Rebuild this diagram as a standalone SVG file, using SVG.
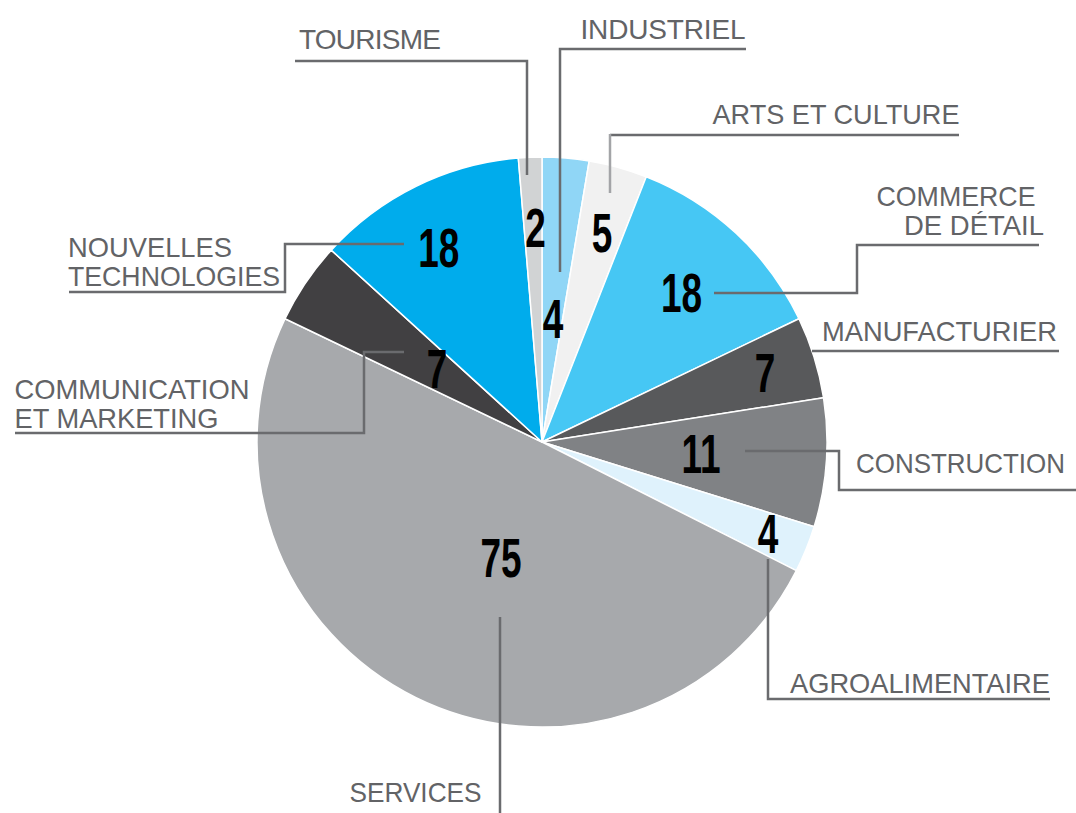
<svg xmlns="http://www.w3.org/2000/svg" width="1076" height="813" viewBox="0 0 1076 813">
<style>
.sl{stroke:#ffffff;stroke-width:1.5;stroke-linejoin:round}
.ln{fill:none;stroke:#6a6b6e;stroke-width:2.5}
.lnl{fill:none;stroke:#a3a4a7;stroke-width:2.5}
.lab{font-family:"Liberation Sans",Arial,sans-serif;font-size:28px;fill:#626366}
.num{font-family:"Liberation Sans",Arial,sans-serif;font-weight:bold;font-size:56px;fill:#000000;text-anchor:middle}
</style>
<rect width="1076" height="813" fill="#ffffff"/>
<g id="pie">
<g id="industriel"><path class="sl" fill="#90d6f6" d="M542,442 L542,157 A285,285 0 0 1 589.22,160.94 Z"/></g>
<g id="arts-et-culture"><path class="sl" fill="#f1f1f1" d="M542,442 L589.22,160.94 A285,285 0 0 1 646.26,176.75 Z"/></g>
<g id="commerce-de-detail"><path class="sl" fill="#46c7f4" d="M542,442 L646.26,176.75 A285,285 0 0 1 798.96,318.72 Z"/></g>
<g id="manufacturier"><path class="sl" fill="#58595b" d="M542,442 L798.96,318.72 A285,285 0 0 1 823.54,397.71 Z"/></g>
<g id="construction"><path class="sl" fill="#808285" d="M542,442 L823.54,397.71 A285,285 0 0 1 814.13,526.68 Z"/></g>
<g id="agroalimentaire"><path class="sl" fill="#dff2fc" d="M542,442 L814.13,526.68 A285,285 0 0 1 796.34,570.59 Z"/></g>
<g id="services"><path class="sl" fill="#a7a9ac" d="M542,442 L796.34,570.59 A285,285 0 0 1 285.04,318.72 Z"/></g>
<g id="communication-et-marketing"><path class="sl" fill="#414042" d="M542,442 L285.04,318.72 A285,285 0 0 1 331.27,250.13 Z"/></g>
<g id="nouvelles-technologies"><path class="sl" fill="#00acec" d="M542,442 L331.27,250.13 A285,285 0 0 1 518.31,157.99 Z"/></g>
<g id="tourisme"><path class="sl" fill="#d1d3d4" d="M542,442 L518.31,157.99 A285,285 0 0 1 542,157 Z"/></g>
</g>
<g id="connectors">
<path class="ln" d="M295,61 H527 V175"/>
<path class="ln" d="M746,49 H560 V272"/>
<path class="ln" d="M959,135 H610"/>
<path class="lnl" d="M610,134 V193"/>
<path class="ln" d="M1039,245 H857 V293 H714"/>
<path class="ln" d="M812,351 H1059"/>
<path class="ln" d="M745,451 H839 V490 H1076"/>
<path class="ln" d="M768,559 V699 H1050"/>
<path class="ln" d="M500,617 V813"/>
<path class="ln" d="M404,244 H285 V292 H69"/>
<path class="ln" d="M404,352 H364 V433 H15"/>
</g>
<g id="values">
<text class="num" transform="translate(535.5,247) scale(0.66,1)">2</text>
<text class="num" transform="translate(553,338) scale(0.66,1)">4</text>
<text class="num" transform="translate(602,252) scale(0.66,1)">5</text>
<text class="num" transform="translate(681.5,312) scale(0.66,1)">18</text>
<text class="num" transform="translate(765,392) scale(0.66,1)">7</text>
<text class="num" transform="translate(701,473) scale(0.66,1)">11</text>
<text class="num" transform="translate(768,553) scale(0.66,1)">4</text>
<text class="num" transform="translate(501,577) scale(0.66,1)">75</text>
<text class="num" transform="translate(437,388) scale(0.66,1)">7</text>
<text class="num" transform="translate(438.7,267) scale(0.66,1)">18</text>
</g>
<g id="labels">
<text class="lab" x="299" y="49.3" textLength="142" lengthAdjust="spacing">TOURISME</text>
<text class="lab" x="580.5" y="39.3" textLength="165" lengthAdjust="spacing">INDUSTRIEL</text>
<text class="lab" x="712.5" y="124" textLength="247" lengthAdjust="spacingAndGlyphs">ARTS ET CULTURE</text>
<text class="lab" x="876.5" y="205.7" textLength="159" lengthAdjust="spacingAndGlyphs">COMMERCE</text>
<text class="lab" x="904" y="235" textLength="140" lengthAdjust="spacingAndGlyphs">DE DÉTAIL</text>
<text class="lab" x="822" y="340.7" textLength="235" lengthAdjust="spacingAndGlyphs">MANUFACTURIER</text>
<text class="lab" x="856" y="472.7" textLength="209" lengthAdjust="spacingAndGlyphs">CONSTRUCTION</text>
<text class="lab" x="790" y="692.7" textLength="260" lengthAdjust="spacingAndGlyphs">AGROALIMENTAIRE</text>
<text class="lab" x="349.5" y="801.7" textLength="132" lengthAdjust="spacingAndGlyphs">SERVICES</text>
<text class="lab" x="68" y="257.3" textLength="164" lengthAdjust="spacingAndGlyphs">NOUVELLES</text>
<text class="lab" x="68" y="286" textLength="212" lengthAdjust="spacingAndGlyphs">TECHNOLOGIES</text>
<text class="lab" x="14.5" y="399.3" textLength="235" lengthAdjust="spacingAndGlyphs">COMMUNICATION</text>
<text class="lab" x="14.5" y="428.3" textLength="204" lengthAdjust="spacingAndGlyphs">ET MARKETING</text>
</g>
</svg>
